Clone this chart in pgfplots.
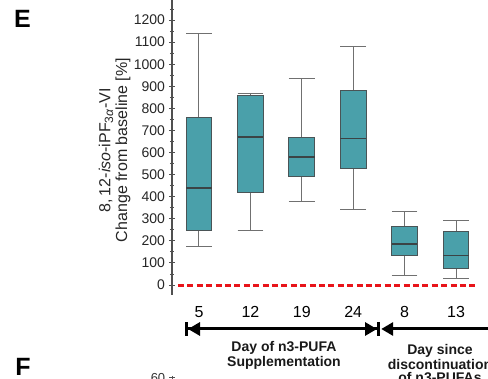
\documentclass[border=0pt]{standalone}
\usepackage{fontspec}
\setmainfont{Liberation Sans}
\usepackage{pgfplots}
\pgfplotsset{compat=1.18}
\usepgfplotslibrary{statistics}
\usetikzlibrary{arrows.meta}
\definecolor{boxfill}{HTML}{4AA0AA}
\definecolor{boxedge}{HTML}{4A5456}
\definecolor{whisk}{HTML}{707070}
\definecolor{axgray}{HTML}{505050}
\definecolor{dashred}{HTML}{E8141A}
\begin{document}
\begin{tikzpicture}
\useasboundingbox (0,0) rectangle (244pt,-189.5pt);
\clip (0,0) rectangle (244pt,-189.5pt);
\begin{axis}[
  scale only axis,
  width=152.3pt, height=150.7pt,
  at={(86pt,-147.5pt)}, anchor=south west,
  xmin=0.475, xmax=6.4,
  ymin=-45, ymax=1320,
  axis x line=none,
  axis y line*=left,
  axis line style={-, draw=axgray, line width=0.6pt},
  ytick={0,100,...,1200},
  minor ytick={50,150,...,1250},
  tick align=center,
  major tick length=3pt,
  minor tick length=2pt,
  tick style={draw=axgray, line width=0.5pt},
  yticklabel style={font=\fontsize{7}{8}\selectfont, text=black!85, xshift=1.5pt},
  /pgf/number format/assume math mode=true,
  /pgf/number format/set thousands separator={},
  clip=false,
  boxplot/draw direction=y,
]
\addplot[dashred, line width=1.5pt, dash pattern=on 3pt off 1.7pt] coordinates {(0.59,0) (6.39,0)};

\pgfplotsset{
  mybox/.style={
    solid, draw=boxedge, line width=0.5pt, fill=boxfill,
    boxplot/box extend=0.5, boxplot/whisker extend=0.5,
    boxplot/every whisker/.style={draw=whisk, line width=0.5pt},
    boxplot/every median/.style={draw=boxedge!80!black, line width=0.8pt},
  }
}
\addplot[mybox, boxplot prepared={draw position=1, lower whisker=174, lower quartile=249, median=439, upper quartile=761, upper whisker=1138}] coordinates {};
\addplot[mybox, boxplot prepared={draw position=2, lower whisker=246, lower quartile=420, median=670, upper quartile=859, upper whisker=866}] coordinates {};
\addplot[mybox, boxplot prepared={draw position=3, lower whisker=379, lower quartile=491, median=581, upper quartile=670, upper whisker=937}] coordinates {};
\addplot[mybox, boxplot prepared={draw position=4, lower whisker=343, lower quartile=527, median=663, upper quartile=882, upper whisker=1081}] coordinates {};
\addplot[mybox, boxplot prepared={draw position=5, lower whisker=44, lower quartile=136, median=187, upper quartile=264, upper whisker=331}] coordinates {};
\addplot[mybox, boxplot prepared={draw position=6, lower whisker=30, lower quartile=75, median=133, upper quartile=242, upper whisker=293}] coordinates {};

\foreach \xx/\lab in {1/5,2/12,3/19,4/24,5/8,6/13}{
  \edef\tmp{\noexpand\node[font=\noexpand\fontsize{8}{9}\noexpand\selectfont, anchor=base] at (axis cs:\xx,-147) {\lab};}
  \tmp
}
\end{axis}

% y label
\node[rotate=90, font=\fontsize{8}{9}\selectfont, text=black!85] at (53pt,-75pt) {8,\,12-\textit{iso}-iPF\textsubscript{3\textit{α}}-VI};
\node[rotate=90, font=\fontsize{8}{9}\selectfont, text=black!85] at (61.5pt,-75pt) {Change from baseline [\%]};

% panel letters
\node[font=\fontsize{12.5}{13}\selectfont\bfseries] at (11.25pt,-9.5pt) {E};
\node[font=\fontsize{12.5}{13}\selectfont\bfseries] at (11.5pt,-183.5pt) {F};

% timeline arrows
\draw[line width=1.5pt, {Bar[width=7pt]Triangle[length=6pt,width=6.5pt]}-{Triangle[length=6pt,width=6.5pt]Bar[width=7pt]}] (92.5pt,-164.5pt) -- (190pt,-164.5pt);
\draw[line width=1.5pt, {Triangle[length=6pt,width=6.5pt]}-] (190.6pt,-164.5pt) -- (250pt,-164.5pt);

\node[font=\fontsize{7}{6.4}\selectfont\bfseries, align=center, text=black!90] at (142pt,-177.5pt) {Day of n3-PUFA\\Supplementation};
\node[font=\fontsize{7}{6.4}\selectfont\bfseries, align=center, text=black!90, anchor=north] at (220pt,-168.8pt) {Day since\\discontinuation\\of n3-PUFAs};

% top of next panel
\node[font=\fontsize{6.5}{7}\selectfont, text=black!80] at (79pt,-189pt) {60};
\draw[axgray, line width=0.5pt] (86pt,-188pt) -- (86pt,-192pt);
\draw[axgray, line width=0.5pt] (84.5pt,-189pt) -- (87.5pt,-189pt);
\end{tikzpicture}
\end{document}
